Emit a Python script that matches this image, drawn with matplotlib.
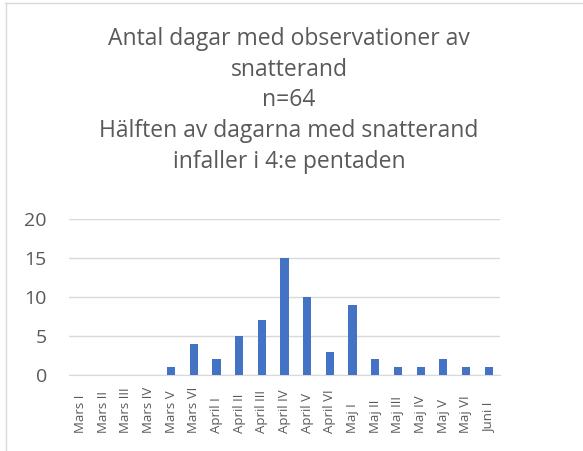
import matplotlib.pyplot as plt
from matplotlib.lines import Line2D

# pentader och antal dagar
pentader = ['Mars I', 'Mars II', 'Mars III', 'Mars IV', 'Mars V', 'Mars VI',
            'April I', 'April II', 'April III', 'April IV', 'April V', 'April VI',
            'Maj I', 'Maj II', 'Maj III', 'Maj IV', 'Maj V', 'Maj VI', 'Juni I']
antal_dagar = [0, 0, 0, 0, 1, 4, 2, 5, 7, 15, 10, 3, 9, 2, 1, 1, 2, 1, 1]
y_ticks = [0, 5, 10, 15, 20]

titel = ("Antal dagar med observationer av\nsnatterand\nn=64\n"
         "Hälften av dagarna med snatterand\ninfaller i 4:e pentaden")

plt.rcParams['font.family'] = ['Open Sans', 'DejaVu Sans']
grey = '#595959'

fig = plt.figure(figsize=(5.83, 4.51), dpi=100)
ax = fig.add_axes([69 / 583, 1 - 375 / 451, 431 / 583, 156 / 451])

x = list(range(len(pentader)))
ax.bar(x, antal_dagar, width=0.36, color='#4472C4', zorder=3)

ax.set_xlim(-0.5, len(pentader) - 0.5)
ax.set_ylim(0, 20)
ax.set_yticks(y_ticks)
ax.set_yticklabels([str(t) for t in y_ticks], fontsize=14, color=grey)
ax.set_xticks(x)
ax.set_xticklabels([])
ax.tick_params(axis='both', length=0)
ax.tick_params(axis='y', pad=16)
ax.grid(axis='y', color='#D9D9D9', linewidth=1, zorder=0)
for s in ['top', 'right', 'left']:
    ax.spines[s].set_visible(False)
ax.spines['bottom'].set_color('#D9D9D9')

# etiketter nerifrån och upp, nederkant i linje
for xi, lab in zip(x, pentader):
    ax.text(xi, -58 / 156, lab, rotation=90, ha='center', va='bottom',
            fontsize=9.5, color=grey, transform=ax.get_xaxis_transform())

fig.text(289 / 583, 1 - 27 / 451, titel, ha='center', va='top',
         fontsize=16.5, color=grey, linespacing=1.37)

# ram (bara övre och vänstra kanten syns)
fig.add_artist(Line2D([5 / 583, 1], [1 - 2.5 / 451] * 2, transform=fig.transFigure,
                      color='#D9D9D9', linewidth=1))
fig.add_artist(Line2D([5.5 / 583] * 2, [0, 1 - 2.5 / 451], transform=fig.transFigure,
                      color='#D9D9D9', linewidth=1))

fig.savefig('out.png', dpi=100)
